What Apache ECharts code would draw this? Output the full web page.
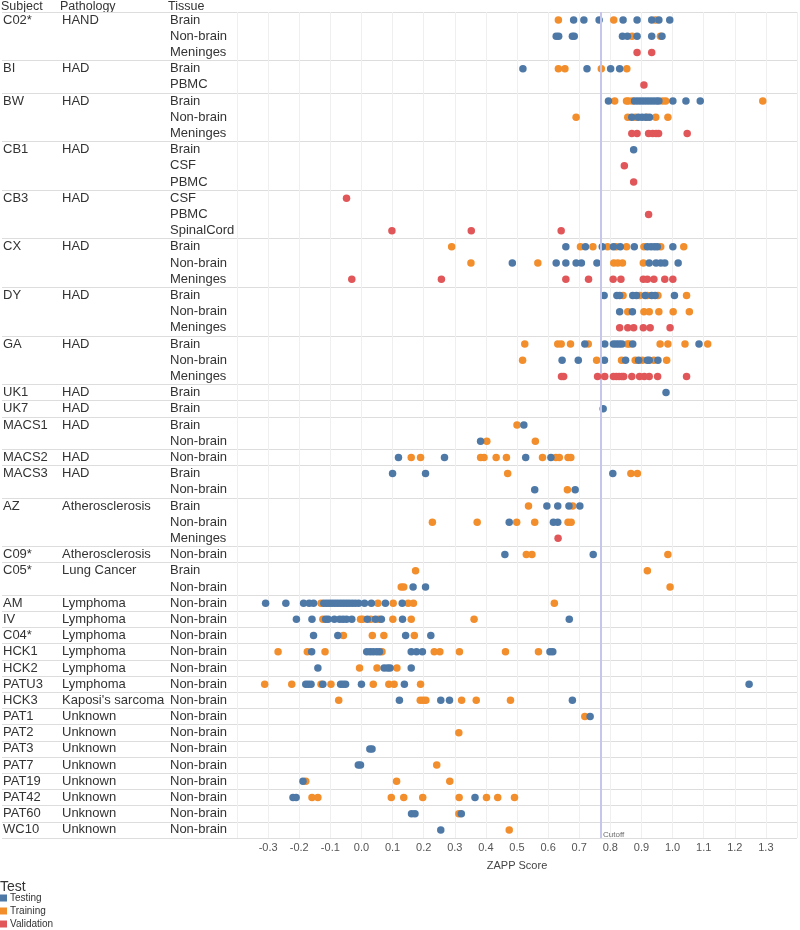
<!DOCTYPE html>
<html><head><meta charset="utf-8">
<script src="https://cdn.jsdelivr.net/npm/echarts@6/dist/echarts.min.js"></script>
<style>html,body{margin:0;padding:0;background:#fff}#c{width:800px;height:930px}</style>
</head><body><div id="c"></div>
<script>
const subjects = ['C02*','C02*','C02*','BI','BI','BW','BW','BW','CB1','CB1','CB1','CB3','CB3','CB3','CX','CX','CX','DY','DY','DY','GA','GA','GA','UK1','UK7','MACS1','MACS1','MACS2','MACS3','MACS3','AZ','AZ','AZ','C09*','C05*','C05*','AM','IV','C04*','HCK1','HCK2','PATU3','HCK3','PAT1','PAT2','PAT3','PAT7','PAT19','PAT42','PAT60','WC10'];
const pathologies = ['HAND','HAND','HAND',
 'HAD','HAD','HAD','HAD','HAD','HAD','HAD','HAD','HAD','HAD','HAD','HAD','HAD','HAD','HAD','HAD','HAD','HAD','HAD','HAD','HAD','HAD','HAD','HAD','HAD','HAD','HAD',
 'Atherosclerosis','Atherosclerosis','Atherosclerosis','Atherosclerosis',
 'Lung Cancer','Lung Cancer',
 'Lymphoma','Lymphoma','Lymphoma','Lymphoma','Lymphoma','Lymphoma',
 "Kaposi's sarcoma",
 'Unknown','Unknown','Unknown','Unknown','Unknown','Unknown','Unknown','Unknown'];
const tissues = ['Brain','Non-brain','Meninges','Brain','PBMC','Brain','Non-brain','Meninges','Brain','CSF','PBMC','CSF','PBMC','SpinalCord','Brain','Non-brain','Meninges','Brain','Non-brain','Meninges','Brain','Non-brain','Meninges','Brain','Brain','Brain','Non-brain','Non-brain','Brain','Non-brain','Brain','Non-brain','Meninges','Non-brain','Brain','Non-brain',
 'Non-brain','Non-brain','Non-brain','Non-brain','Non-brain','Non-brain','Non-brain','Non-brain','Non-brain','Non-brain','Non-brain','Non-brain','Non-brain','Non-brain','Non-brain'];

const testingVals = [
 [0.682,0.715,0.764,0.841,0.886,0.933,0.956,0.991],
 [0.626,0.634,0.678,0.684,0.839,0.855,0.886,0.933,0.966],
 [],
 [0.519,0.725,0.801,0.830],
 [],
 [0.794,0.878,0.888,0.898,0.908,0.918,0.928,0.938,0.948,0.956,1.001,1.043,1.089],
 [0.869,0.890,0.902,0.914,0.926],
 [],
 [0.875],
 [],
 [],
 [],
 [],
 [],
 [0.657,0.720,0.774,0.810,0.832,0.877,0.919,0.931,0.942,0.951,1.001],
 [0.485,0.626,0.657,0.690,0.707,0.757,0.925,0.947,0.962,0.975,1.018],
 [],
 [0.780,0.821,0.830,0.872,0.884,0.912,0.933,0.944,1.006],
 [0.830,0.871],
 [],
 [0.718,0.782,0.810,0.819,0.828,0.837,0.872,1.085],
 [0.645,0.697,0.781,0.849,0.891,0.919,0.925,0.953],
 [],
 [0.979],
 [0.777],
 [0.522],
 [0.383],
 [0.119,0.267,0.528,0.609],
 [0.100,0.206,0.808],
 [0.557,0.687],
 [0.596,0.631,0.667,0.702],
 [0.475,0.617,0.631],
 [],
 [0.461,0.745],
 [],
 [0.166,0.206],
 [-0.308,-0.243,-0.186,-0.168,-0.154,-0.121,-0.112,-0.103,-0.094,-0.085,-0.076,-0.067,-0.058,-0.049,-0.040,-0.030,-0.020,-0.009,0.010,0.032,0.077,0.131],
 [-0.209,-0.159,-0.115,-0.107,-0.087,-0.070,-0.059,-0.048,-0.031,0.019,0.045,0.064,0.132,0.668],
 [-0.154,-0.076,0.142,0.223],
 [-0.160,0.017,0.028,0.038,0.049,0.058,0.160,0.177,0.196,0.606,0.615],
 [-0.140,0.073,0.084,0.092,0.160],
 [-0.179,-0.171,-0.162,-0.124,-0.067,-0.059,-0.051,0.000,0.138,1.246],
 [0.122,0.255,0.283,0.678],
 [0.735],
 [],
 [0.027,0.034],
 [-0.010,-0.003],
 [-0.188],
 [-0.220,-0.210,0.365],
 [0.161,0.172,0.321],
 [0.255]
];
const trainingVals = [
 [0.633,0.811,0.945],
 [0.870,0.961],
 [],
 [0.633,0.654,0.771,0.853],
 [],
 [0.814,0.852,0.858,0.870,0.968,0.978,1.290],
 [0.690,0.856,0.880,0.917,0.946,0.985],
 [],
 [],
 [],
 [],
 [],
 [],
 [],
 [0.290,0.704,0.744,0.791,0.819,0.852,0.908,0.962,1.036],
 [0.352,0.567,0.811,0.824,0.839,0.906],
 [],
 [0.841,0.895,0.919,0.953,1.045],
 [0.856,0.908,0.925,0.956,1.002,1.054],
 [],
 [0.525,0.631,0.642,0.672,0.729,0.855,0.861,0.960,0.985,1.040,1.113],
 [0.518,0.756,0.836,0.880,0.903,0.940,0.981],
 [],
 [],
 [],
 [0.500],
 [0.403,0.559],
 [0.160,0.190,0.383,0.394,0.433,0.466,0.582,0.625,0.636,0.664,0.673],
 [0.470,0.866,0.887],
 [0.662],
 [0.537,0.679],
 [0.228,0.372,0.499,0.557,0.664,0.674],
 [],
 [0.530,0.548,0.985],
 [0.174,0.919],
 [0.128,0.136,0.992],
 [-0.130,0.053,0.102,0.150,0.167,0.620],
 [-0.124,-0.003,0.004,0.030,0.056,0.101,0.160,0.362],
 [-0.058,0.035,0.072,0.170],
 [-0.268,-0.174,-0.117,0.066,0.234,0.252,0.315,0.463,0.569],
 [-0.006,0.050,0.114],
 [-0.311,-0.224,-0.130,-0.098,0.038,0.088,0.105,0.190],
 [-0.073,0.189,0.198,0.207,0.322,0.369,0.479],
 [0.718],
 [0.313],
 [],
 [0.242],
 [-0.179,0.113,0.284],
 [-0.159,-0.140,0.096,0.136,0.197,0.314,0.402,0.438,0.492],
 [0.313],
 [0.475]
];
const validationVals = [
 [],[],[0.886,0.933],
 [],[0.908],
 [],[],[0.869,0.886,0.923,0.936,0.947,0.955,1.047],
 [],[0.845],[0.875],
 [-0.048],[0.923],[0.098,0.353,0.642],
 [],[],[-0.031,0.257,0.657,0.730,0.809,0.834,0.906,0.919,0.940,0.975,1.001],
 [],[],[0.830,0.856,0.875,0.906,0.928,0.992],
 [],[],[0.643,0.650,0.759,0.782,0.810,0.819,0.828,0.837,0.843,0.869,0.894,0.909,0.925,0.952,1.045],
 [],[],[],[],[],[],[],
 [],[],[0.632],
 [],[],[],
 [],[],[],[],[],[],[],
 [],[],[],[],[],[],[],[]
];
const cutoff = 0.767;
const xTickLabels = ['-0.3','-0.2','-0.1','0.0','0.1','0.2','0.3','0.4','0.5','0.6','0.7','0.8','0.9','1.0','1.1','1.2','1.3'];
const testNames = ['Testing','Training','Validation'];
const testColors = ['#4e79a7','#f28e2b','#e15759'];
const headerLabels = ['Subject','Pathology','Tissue'];

const rowKeys = subjects.map((s, i) => String(i));
function toPoints(vals) {
  const out = [];
  vals.forEach((row, i) => row.forEach(v => out.push([v, rowKeys[i]])));
  return out;
}
const isGroupStart = i => i === 0 || subjects[i] !== subjects[i - 1];
const FONT = 'Liberation Sans, Arial, Helvetica, sans-serif';
const TOP = 12, H = 826, PL = 237;
const colX = [1, 60, 168];

const chart = echarts.init(document.getElementById('c'), null, {renderer: 'canvas'});
const splitLine = {show: true, interval: (idx) => isGroupStart(idx) || idx >= subjects.length, lineStyle: {color: '#dddddd', width: 1}};

chart.setOption({
  animation: false,
  textStyle: {fontFamily: FONT},
  grid: [
    {left: 0, top: TOP, width: PL, height: H},
    {left: PL, top: TOP, right: 0, height: H}
  ],
  xAxis: [
    {gridIndex: 0, type: 'value', show: false, min: 0, max: 1},
    {gridIndex: 1, type: 'value', min: -0.4, max: 1.4, interval: 0.1,
     axisLine: {show: false}, axisTick: {show: false},
     axisLabel: {color: '#555', fontSize: 11, margin: 4, fontFamily: FONT,
       formatter: v => { const k = Math.round((v + 0.3) * 10); return (k >= 0 && k < xTickLabels.length) ? xTickLabels[k] : ''; }},
     splitLine: {show: true, lineStyle: {color: '#efefef', width: 1}},
     name: 'ZAPP Score', nameLocation: 'middle', nameGap: 22,
     nameTextStyle: {color: '#444', fontSize: 11, fontFamily: FONT}}
  ],
  yAxis: [
    {gridIndex: 0, type: 'category', data: rowKeys, inverse: true,
     axisLine: {show: false}, axisTick: {show: false},
     axisLabel: {inside: true, margin: 1, interval: 0, color: '#333', fontSize: 13, fontFamily: FONT,
       formatter: (v, i) => {
         const s = isGroupStart(i) ? subjects[i] : ' ';
         const p = isGroupStart(i) ? pathologies[i] : ' ';
         return '{s|' + s + '}{p|' + p + '}{t|' + tissues[i] + '}';
       },
       rich: {s: {width: 59, fontSize: 13, color: '#333'}, p: {width: 108, fontSize: 13, color: '#333'}, t: {fontSize: 13, color: '#333'}}},
     splitLine: splitLine},
    {gridIndex: 1, type: 'category', data: rowKeys, inverse: true,
     axisLine: {show: false}, axisTick: {show: false}, axisLabel: {show: false},
     splitLine: splitLine}
  ],
  legend: {
    data: testNames, orient: 'vertical', left: 0, top: 893, height: 40, padding: 0,
    icon: 'rect', itemWidth: 7, itemHeight: 7, itemGap: 3,
    textStyle: {fontSize: 10, lineHeight: 10, color: '#333', fontFamily: FONT, padding: [0, 0, 0, -2]}
  },
  graphic: headerLabels.map((t, k) => ({
    type: 'text', left: colX[k], top: 0.5,
    style: {text: t, fontSize: 12.5, fontFamily: FONT, fill: '#333', lineHeight: 10}
  })).concat([
    {type: 'text', left: 0, top: 880, style: {text: 'Test', fontSize: 14, fontFamily: FONT, fill: '#333'}}
  ]),
  series: [
    {name: 'Training', type: 'scatter', xAxisIndex: 1, yAxisIndex: 1, symbolSize: 7.5,
     itemStyle: {color: testColors[1], opacity: 1}, data: toPoints(trainingVals), z: 3},
    {name: 'Testing', type: 'scatter', xAxisIndex: 1, yAxisIndex: 1, symbolSize: 7.5,
     itemStyle: {color: testColors[0], opacity: 1}, data: toPoints(testingVals), z: 4,
     markLine: {silent: true, symbol: 'none', label: {show: false},
       lineStyle: {color: '#c6c6ea', width: 2, type: 'solid'}, data: [{xAxis: cutoff}]}},
    {name: 'Validation', type: 'scatter', xAxisIndex: 1, yAxisIndex: 1, symbolSize: 7.5,
     itemStyle: {color: testColors[2], opacity: 1}, data: toPoints(validationVals), z: 5},
    {name: 'cutoffLabel', type: 'scatter', xAxisIndex: 1, yAxisIndex: 1, symbolSize: 0, silent: true,
     data: [[cutoff, rowKeys[rowKeys.length - 1]]],
     label: {show: true, formatter: 'Cutoff', position: 'right', distance: 3, offset: [0, 5], fontSize: 8, color: '#444', fontFamily: FONT}}
  ]
});
</script>
</body></html>
